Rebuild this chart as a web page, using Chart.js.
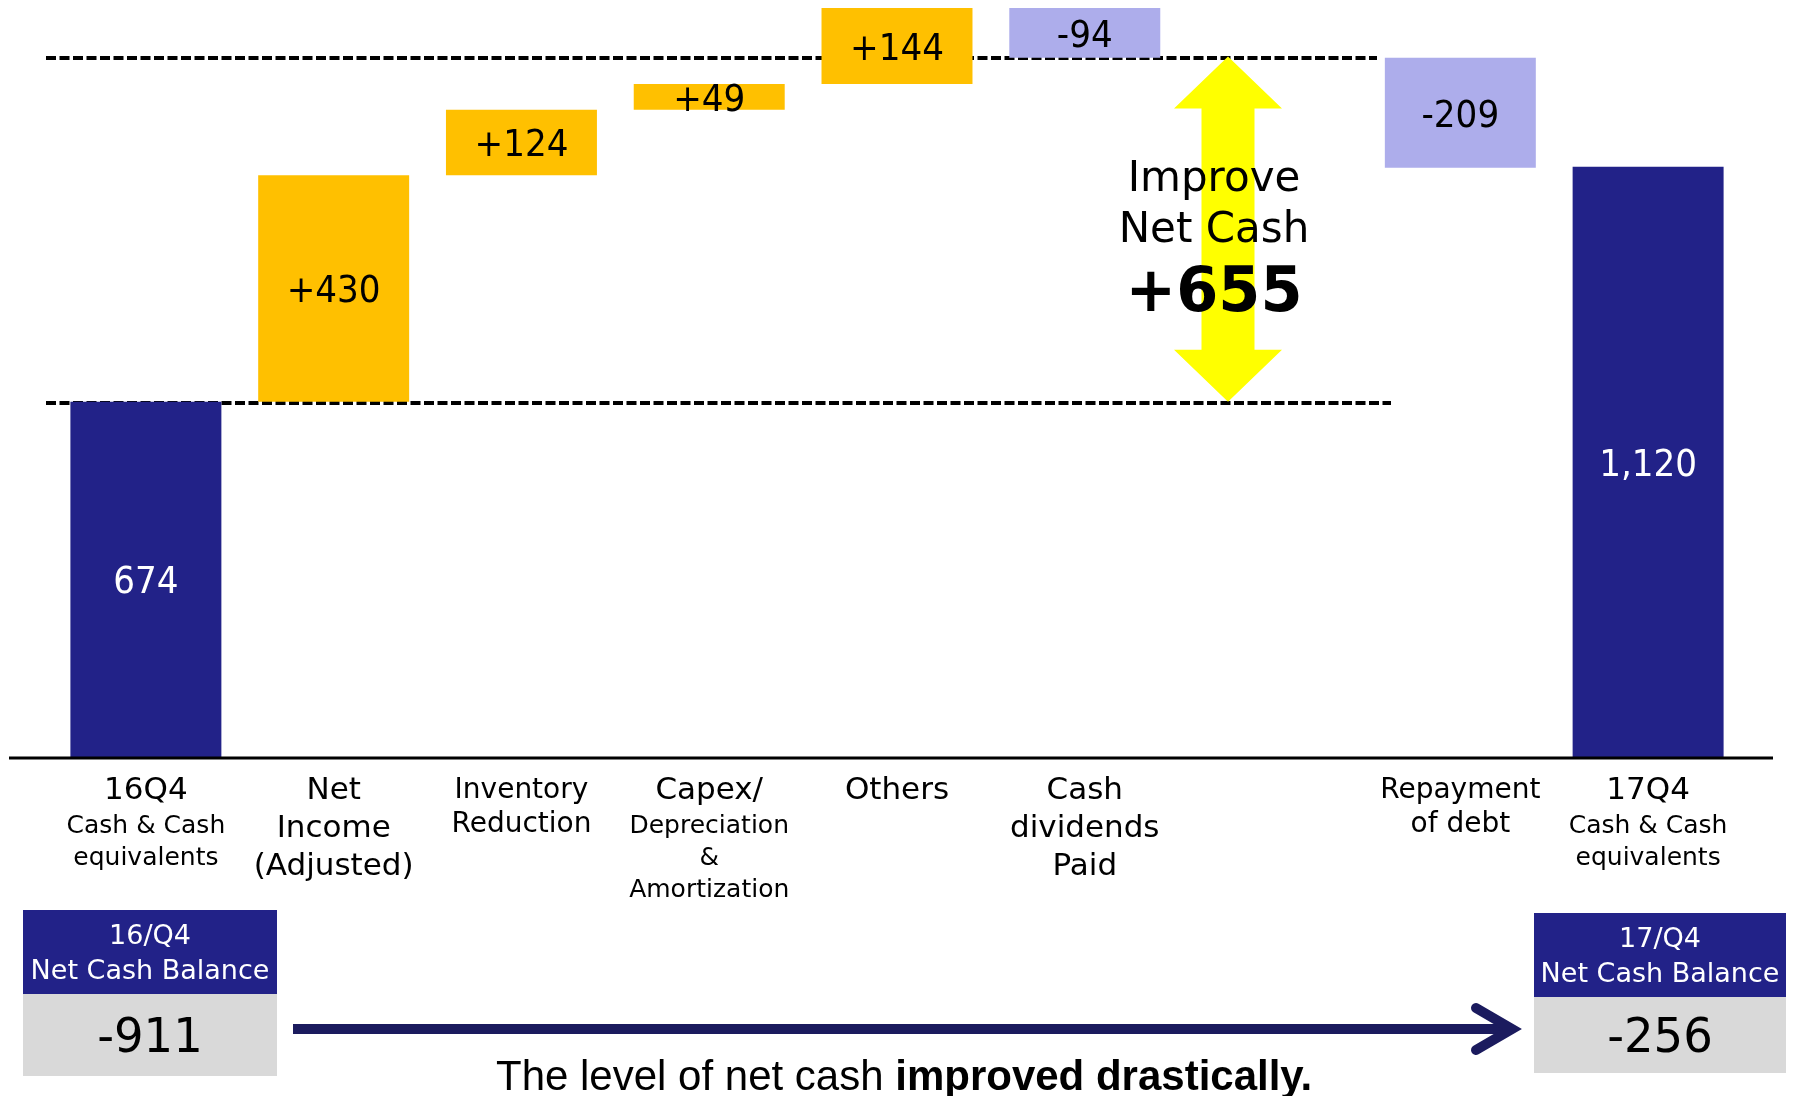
<!DOCTYPE html>
<html>
<head>
<meta charset="utf-8">
<script src="https://cdn.jsdelivr.net/npm/chart.js@4.4.1/dist/chart.umd.min.js"></script>
<style>
    html, body { margin: 0; padding: 0; background: #ffffff; }
</style>
</head>
<body>
<canvas id="cashChart" width="1799" height="1096"></canvas>
<script>
// categories (empty slot = the "Improve Net Cash" arrow column)
const categories = ['16Q4 Cash & Cash equivalents', 'Net Income (Adjusted)', 'Inventory Reduction',
    'Capex/ Depreciation & Amortization', 'Others', 'Cash dividends Paid', '', 'Repayment of debt',
    '17Q4 Cash & Cash equivalents'];

// label lines under the axis
const titleLines = [['16Q4'], ['Net', 'Income', '(Adjusted)'], ['Inventory', 'Reduction'], ['Capex/'],
    ['Others'], ['Cash', 'dividends', 'Paid'], [], ['Repayment', 'of debt'], ['17Q4']];
const noteLines = [['Cash & Cash', 'equivalents'], [], [], ['Depreciation', '&', 'Amortization'],
    [], [], [], [], ['Cash & Cash', 'equivalents']];

// cash balances (totals) and movements
const cashTotals = [674, null, null, null, null, null, null, null, 1120];
const cashChanges = [null, 430, 124, 49, 144, -94, null, -209, null];

// net cash balance boxes
const netCashPeriods = ['16/Q4', '17/Q4'];
const netCashBalance = [-911, -256];

const FONT = '"DejaVu Sans", Verdana, sans-serif';
const NAVY = '#222288';
const ORANGE = '#FFC000';
const LAVENDER = '#ADADEB';

// floating bars for the waterfall
function buildBars() {
    const bars = [];
    const colors = [];
    const texts = [];
    let level = 0;
    for (let i = 0; i < categories.length; i++) {
        if (cashTotals[i] !== null) {
            bars.push([0, cashTotals[i]]);
            level = cashTotals[i];
            colors.push(NAVY);
            texts.push(cashTotals[i].toLocaleString('en-US'));
        } else if (cashChanges[i] !== null) {
            bars.push([level, level + cashChanges[i]]);
            level += cashChanges[i];
            colors.push(cashChanges[i] >= 0 ? ORANGE : LAVENDER);
            texts.push((cashChanges[i] >= 0 ? '+' : '') + cashChanges[i]);
        } else {
            bars.push(null);
            colors.push('rgba(0,0,0,0)');
            texts.push('');
        }
    }
    return { bars, colors, texts };
}

const waterfall = buildBars();
const improvement = netCashBalance[1] - netCashBalance[0];

// text helper (sx squeezes the text horizontally)
function text(ctx, str, x, y, font, color, sx) {
    ctx.save();
    ctx.font = font;
    ctx.fillStyle = color;
    ctx.textAlign = 'center';
    ctx.textBaseline = 'middle';
    ctx.translate(x, y);
    ctx.scale(sx || 1, 1);
    ctx.fillText(str, 0, 0);
    ctx.restore();
}

// dashed reference lines behind the bars
const guideLines = {
    id: 'guideLines',
    beforeDatasetsDraw(chart) {
        const ctx = chart.ctx;
        const y = chart.scales.y;
        ctx.save();
        ctx.strokeStyle = '#000';
        ctx.lineWidth = 4;
        ctx.setLineDash([10, 3.5]);
        [[cashTotals[0] + improvement, 1377], [cashTotals[0], 1391]].forEach(([v, x2]) => {
            const py = Math.round(y.getPixelForValue(v)) + 1;
            ctx.beginPath();
            ctx.moveTo(46, py);
            ctx.lineTo(x2, py);
            ctx.stroke();
        });
        ctx.restore();
    }
};

// everything drawn on top: values, labels, arrow, boxes
const decorations = {
    id: 'decorations',
    afterDatasetsDraw(chart) {
        const ctx = chart.ctx;
        const x = chart.scales.x;
        const y = chart.scales.y;
        const meta = chart.getDatasetMeta(0);
        ctx.save();

        // values inside bars
        meta.data.forEach((bar, i) => {
            if (!waterfall.texts[i]) return;
            const cy = (bar.y + bar.base) / 2 + 4;
            const color = cashTotals[i] !== null ? '#fff' : '#000';
            text(ctx, waterfall.texts[i], bar.x, cy, '38px ' + FONT, color, 0.9);
        });

        // axis base line
        const y0 = Math.round(y.getPixelForValue(0)) + 1;
        ctx.strokeStyle = '#000';
        ctx.lineWidth = 3;
        ctx.beginPath();
        ctx.moveTo(9, y0);
        ctx.lineTo(1773, y0);
        ctx.stroke();

        // category labels
        categories.forEach((c, i) => {
            const cx = x.getPixelForValue(i);
            const small = (i === 2 || i === 7);
            const size = small ? 28 : 31;
            const lh = small ? 34 : 38;
            let ly = 791;
            titleLines[i].forEach((t, k) => {
                if (k > 0) ly += lh;
                text(ctx, t, cx, ly, size + 'px ' + FONT, '#000');
            });
            noteLines[i].forEach((t, k) => {
                ly += (k === 0 ? 35 : 32);
                text(ctx, t, cx, ly, '25px ' + FONT, '#000');
            });
        });

        // yellow double arrow
        const ax = 1228;
        const top = y.getPixelForValue(cashTotals[0] + improvement);
        const bot = y.getPixelForValue(cashTotals[0]);
        const hw = 54, hl = 52, sw = 26.5;
        ctx.fillStyle = '#FFFF00';
        ctx.beginPath();
        ctx.moveTo(ax, top);
        ctx.lineTo(ax + hw, top + hl);
        ctx.lineTo(ax + sw, top + hl);
        ctx.lineTo(ax + sw, bot - hl);
        ctx.lineTo(ax + hw, bot - hl);
        ctx.lineTo(ax, bot);
        ctx.lineTo(ax - hw, bot - hl);
        ctx.lineTo(ax - sw, bot - hl);
        ctx.lineTo(ax - sw, top + hl);
        ctx.lineTo(ax - hw, top + hl);
        ctx.closePath();
        ctx.fill();
        text(ctx, 'Improve', 1214, 180, '42px ' + FONT, '#000');
        text(ctx, 'Net Cash', 1214, 231, '42px ' + FONT, '#000');
        text(ctx, '+' + improvement, 1214, 295, 'bold 63px ' + FONT, '#000', 0.96);

        // net cash balance boxes
        const boxes = [{ left: 23, w: 254, top: 910, bottom: 1076 }, { left: 1534, w: 252, top: 913, bottom: 1073 }];
        boxes.forEach((b, i) => {
            const mid = b.left + b.w / 2;
            ctx.fillStyle = NAVY;
            ctx.fillRect(b.left, b.top, b.w, 84);
            ctx.fillStyle = '#D9D9D9';
            ctx.fillRect(b.left, b.top + 84, b.w, b.bottom - b.top - 84);
            text(ctx, netCashPeriods[i], mid, b.top + 27, '27px ' + FONT, '#fff');
            text(ctx, 'Net Cash Balance', mid, b.top + 62, '27px ' + FONT, '#fff');
            text(ctx, String(netCashBalance[i]), mid, (b.top + 84 + b.bottom) / 2 + 5, '48px ' + FONT, '#000', 0.97);
        });

        // long arrow between the boxes
        ctx.strokeStyle = '#1B1B5E';
        ctx.lineWidth = 10;
        ctx.beginPath();
        ctx.moveTo(293, 1029);
        ctx.lineTo(1506, 1029);
        ctx.stroke();
        ctx.lineCap = 'round';
        ctx.lineJoin = 'miter';
        ctx.beginPath();
        ctx.moveTo(1476, 1008);
        ctx.lineTo(1512, 1029);
        ctx.lineTo(1476, 1050);
        ctx.stroke();

        // bottom message
        ctx.font = '42px "Liberation Sans", Arial, sans-serif';
        ctx.fillStyle = '#000';
        ctx.textAlign = 'left';
        ctx.textBaseline = 'alphabetic';
        const part1 = 'The level of net cash ';
        ctx.fillText(part1, 496, 1090);
        const w1 = ctx.measureText(part1).width;
        ctx.font = 'bold 42px "Liberation Sans", Arial, sans-serif';
        ctx.fillText('improved drastically.', 496 + w1, 1090);

        ctx.restore();
    }
};

// draw the chart
function drawWaterfall() {
    const ctx = document.getElementById('cashChart').getContext('2d');
    new Chart(ctx, {
        type: 'bar',
        data: {
            labels: categories,
            datasets: [{
                data: waterfall.bars,
                backgroundColor: waterfall.colors,
                borderWidth: 0,
                barPercentage: 0.804,
                categoryPercentage: 1.0
            }]
        },
        options: {
            responsive: false,
            devicePixelRatio: 1,
            animation: false,
            layout: { padding: { top: 6, bottom: 339, left: 52, right: 57 } },
            plugins: {
                legend: { display: false },
                tooltip: { enabled: false }
            },
            scales: {
                x: { display: false },
                y: { display: false, min: 0, max: 1425 }
            }
        },
        plugins: [guideLines, decorations]
    });
}

window.onload = drawWaterfall;
</script>
</body>
</html>
